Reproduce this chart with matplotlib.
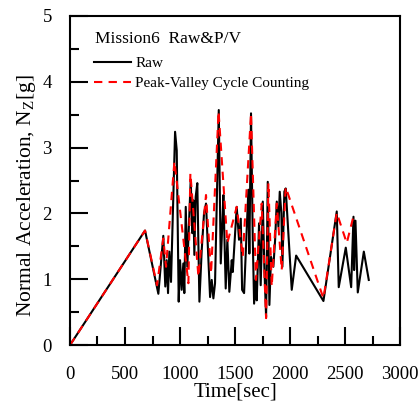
import matplotlib
matplotlib.use("Agg")
import matplotlib.pyplot as plt
from matplotlib.ticker import MultipleLocator

plt.rcParams['font.family'] = ['Liberation Serif', 'DejaVu Serif']
plt.rcParams['mathtext.fontset'] = 'stix'

raw_t = [0, 682, 803, 848, 866, 879, 891, 903, 918, 955, 970, 988, 1000, 1015, 1030, 1039,
         1052, 1066, 1097, 1112, 1121, 1130, 1142, 1157, 1176, 1197, 1218, 1236, 1258, 1273,
         1288, 1303, 1318, 1352, 1370, 1388, 1394, 1415, 1430, 1448, 1470, 1479, 1515, 1536,
         1552, 1564, 1582, 1621, 1630, 1645, 1661, 1673, 1688, 1697, 1718, 1733, 1752, 1766,
         1782, 1797, 1812, 1827, 1848, 1864, 1879, 1894, 1906, 1921, 1930, 1948, 1960, 2015,
         2055, 2303, 2424, 2442, 2506, 2555, 2576, 2582, 2594, 2615, 2670, 2715]
raw_v = [0.0, 1.74, 0.78, 1.66, 0.89, 1.29, 0.79, 1.42, 0.96, 3.24, 2.96, 0.66, 1.29, 0.84,
         1.24, 0.79, 2.10, 1.19, 2.51, 1.70, 2.20, 1.37, 2.25, 2.46, 0.66, 1.44, 2.00, 2.15,
         1.29, 0.73, 0.99, 0.71, 0.94, 3.57, 1.24, 2.00, 2.28, 0.86, 1.60, 0.81, 1.29, 1.11,
         2.10, 1.60, 1.92, 0.84, 0.79, 2.36, 1.39, 3.52, 1.60, 0.63, 0.99, 0.68, 1.85, 0.91,
         2.18, 1.19, 0.43, 2.48, 0.61, 1.34, 1.19, 1.60, 2.18, 1.80, 2.33, 2.00, 1.19, 2.33,
         2.38, 0.84, 1.36, 0.67, 2.03, 0.88, 1.48, 0.88, 1.95, 1.14, 1.89, 0.80, 1.42, 0.99]

pv_t = [0, 682, 791, 848, 873, 949, 1076, 1094, 1167, 1236, 1282, 1350, 1430, 1515, 1570,
        1645, 1690, 1742, 1782, 1803, 1833, 1879, 1924, 1960, 2303, 2424, 2515, 2576]
pv_v = [0.0, 1.74, 0.91, 1.62, 1.19, 2.79, 0.94, 2.61, 1.04, 2.28, 1.09, 3.55, 1.55, 2.10,
        1.34, 3.52, 0.99, 2.15, 0.41, 2.46, 0.89, 2.15, 1.14, 2.40, 0.71, 2.01, 1.55, 1.96]

x_ticks = [0, 500, 1000, 1500, 2000, 2500, 3000]
y_ticks = [0, 1, 2, 3, 4, 5]

fig = plt.figure(figsize=(4.19, 4.07), dpi=100)
ax = fig.add_axes([0.167, 0.152, 0.788, 0.809])

ax.plot(raw_t, raw_v, color='black', lw=1.5, label='Raw')
ax.plot(pv_t, pv_v, color='#ff0000', lw=1.5, ls=(0, (4, 3)), label='Peak-Valley Cycle Counting')

ax.set_xlim(0, 3000)
ax.set_ylim(0, 5)
ax.set_xticks(x_ticks)
ax.set_yticks(y_ticks)
ax.xaxis.set_minor_locator(MultipleLocator(250))
ax.yaxis.set_minor_locator(MultipleLocator(0.5))
ax.tick_params(which='major', direction='in', length=13, width=1.5, labelsize=13.5,
               top=False, right=False)
ax.tick_params(which='minor', direction='in', length=6.5, width=1.5, top=False, right=False)
ax.tick_params(axis='x', which='major', pad=15)
ax.tick_params(axis='y', which='major', pad=13)
for s in ax.spines.values():
    s.set_linewidth(1.5)

ax.set_xlabel('Time[sec]', fontsize=15, labelpad=0)
ax.set_ylabel('Normal Acceleration, N$_\\mathregular{Z}$[g]', fontsize=15.5, labelpad=3, y=0.455)

ax.text(0.075, 0.93, 'Mission6  Raw&P/V', transform=ax.transAxes, fontsize=12.5,
        va='center', ha='left')
ax.legend(loc='upper left', bbox_to_anchor=(0.055, 0.895), frameon=False, fontsize=11,
          handlelength=2.4, handletextpad=0.3, borderaxespad=0, labelspacing=0.4)

fig.savefig('out.png', dpi=100)
